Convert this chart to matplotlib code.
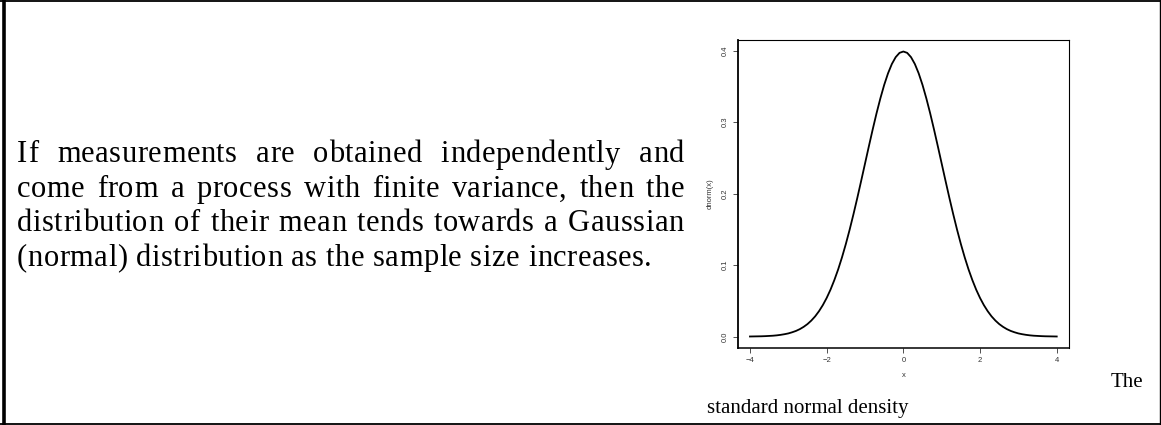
import numpy as np
import matplotlib
matplotlib.use("Agg")
import matplotlib.pyplot as plt
from matplotlib.lines import Line2D

W, H = 1161, 425

# paragraph text, one entry per line (all but the last are justified)
para_lines = [
    "If measurements are obtained independently and",
    "come from a process with finite variance, then the",
    "distribution of their mean tends towards a Gaussian",
    "(normal) distribution as the sample size increases.",
]
caption_end = "The"
caption_next = "standard normal density"

# standard normal density read at x = -4.0 ... 4.0 in steps of 0.1
x_vals = np.round(np.arange(-40, 41) / 10, 1)
density = [
    0.0001, 0.0002, 0.0003, 0.0004, 0.0006, 0.0009, 0.0012, 0.0017, 0.0024, 0.0033,
    0.0044, 0.0060, 0.0079, 0.0104, 0.0136, 0.0175, 0.0224, 0.0283, 0.0355, 0.0440,
    0.0540, 0.0656, 0.0790, 0.0940, 0.1109, 0.1295, 0.1497, 0.1714, 0.1942, 0.2179,
    0.2420, 0.2661, 0.2897, 0.3123, 0.3332, 0.3521, 0.3683, 0.3814, 0.3910, 0.3970,
    0.3989,
    0.3970, 0.3910, 0.3814, 0.3683, 0.3521, 0.3332, 0.3123, 0.2897, 0.2661, 0.2420,
    0.2179, 0.1942, 0.1714, 0.1497, 0.1295, 0.1109, 0.0940, 0.0790, 0.0656, 0.0540,
    0.0440, 0.0355, 0.0283, 0.0224, 0.0175, 0.0136, 0.0104, 0.0079, 0.0060, 0.0044,
    0.0033, 0.0024, 0.0017, 0.0012, 0.0009, 0.0006, 0.0004, 0.0003, 0.0002, 0.0001,
]
x_ticks = [-4, -2, 0, 2, 4]
y_ticks = [0.0, 0.1, 0.2, 0.3, 0.4]

fig = plt.figure(figsize=(W / 100, H / 100), dpi=100)
fig.patch.set_facecolor("white")


def fx(px):
    return px / W


def fy(py):
    return 1 - py / H


# frame around the whole panel
fig.add_artist(Line2D([fx(0), fx(1161)], [fy(0.8), fy(0.8)], color="black", lw=1.3))
fig.add_artist(Line2D([fx(3.5), fx(3.5)], [fy(0), fy(425)], color="black", lw=2.6))
fig.add_artist(Line2D([fx(1159.5), fx(1159.5)], [fy(0), fy(425)], color="black", lw=1.0))
fig.add_artist(Line2D([fx(0), fx(1161)], [fy(423.5), fy(423.5)], color="black", lw=1.3))

# paragraph, set letter by letter with a little tracking
serif = "Liberation Serif"
fsize = 22
left_px, right_px = 17, 684
last_right = 652
baselines = [162.5, 197, 231, 265.5]
renderer = fig.canvas.get_renderer()
probe = fig.text(0, 0, "", fontsize=fsize, family=serif)


def text_w(s):
    if not s:
        return 0.0
    probe.set_text(s)
    return probe.get_window_extent(renderer).width


space_w = text_w("a a") - text_w("aa")


def word_offsets(word):
    # x offset of each letter inside the word (kerning kept via prefixes)
    return [text_w(word[:k]) for k in range(len(word))]


def draw_word(x, base, word, track):
    offs = word_offsets(word)
    for k, (ch, o) in enumerate(zip(word, offs)):
        fig.text(fx(x + o + k * track), fy(base), ch, fontsize=fsize,
                 family=serif, va="baseline", ha="left")
    return text_w(word) + (len(word) - 1) * track


# tracking chosen so the unjustified last line keeps its length
last_words = para_lines[-1].split()
n_letters = sum(len(w) for w in last_words)
plain = sum(text_w(w) for w in last_words) + space_w * (len(last_words) - 1)
n_gaps = n_letters - 1 + (len(last_words) - 1)
track = max((last_right - left_px - plain) / n_gaps, 0.0)

for i, (line, base) in enumerate(zip(para_lines, baselines)):
    words = line.split()
    widths = [text_w(w) + (len(w) - 1) * track for w in words]
    if i == len(para_lines) - 1:
        gap = space_w + 2 * track
    else:
        gap = (right_px - left_px - sum(widths)) / (len(words) - 1)
    xpos = left_px
    for w, wd in zip(words, widths):
        draw_word(xpos, base, w, track)
        xpos += wd + gap
probe.remove()

# caption split over two lines
fig.text(fx(1143), fy(387), caption_end, fontsize=15, family=serif,
         va="baseline", ha="right")
fig.text(fx(707), fy(413), caption_next, fontsize=15, family=serif,
         va="baseline", ha="left")

# density plot
ax = fig.add_axes([fx(737.7), fy(348), fx(1069) - fx(737.7), fy(40) - fy(348)])
ax.plot(x_vals, density, color="black", lw=1.3)
ax.set_xlim(-4.32, 4.32)
ax.set_ylim(-0.016, 0.415)
ax.set_xticks(x_ticks)
ax.set_xticklabels(["\u22124", "\u22122", "0", "2", "4"])
ax.set_yticks(y_ticks)
ax.set_yticklabels(["0.0", "0.1", "0.2", "0.3", "0.4"], rotation=90, va="center")
for s in ax.spines.values():
    s.set_linewidth(0.8)
ax.spines["left"].set_linewidth(1.3)
ax.spines["bottom"].set_linewidth(1.1)
ax.tick_params(length=3.5, width=0.6, labelsize=5.5, pad=3, colors="#333333")
ax.set_xlabel("x", fontsize=5.5, family="Liberation Sans", labelpad=6, color="#333333")
ax.set_ylabel("dnorm(x)", fontsize=5.5, family="Liberation Sans", labelpad=6, color="#333333")
for lab in ax.get_xticklabels() + ax.get_yticklabels():
    lab.set_family("Liberation Sans")

fig.savefig("out.png", dpi=100, facecolor="white")
